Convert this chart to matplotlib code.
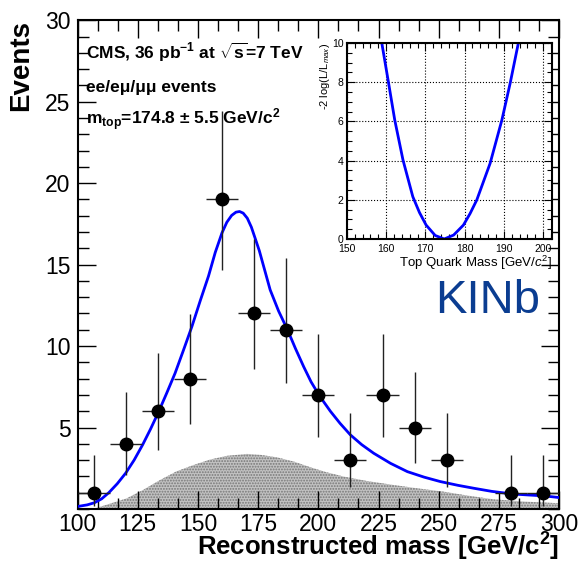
import matplotlib
matplotlib.use("Agg")
import matplotlib.pyplot as plt
from matplotlib.ticker import MultipleLocator

plt.rcParams["font.family"] = ["Liberation Sans", "DejaVu Sans"]
plt.rcParams["mathtext.fontset"] = "custom"
plt.rcParams["mathtext.rm"] = "Liberation Sans"
plt.rcParams["mathtext.it"] = "Liberation Sans:italic"
plt.rcParams["mathtext.bf"] = "Liberation Sans:bold"
plt.rcParams["hatch.linewidth"] = 0.9

# Data points (bin centres, counts, Poisson errors)
bin_centers = [106.67, 120.0, 133.33, 146.67, 160.0, 173.33, 186.67, 200.0,
               213.33, 226.67, 240.0, 253.33, 280.0, 293.33]
counts = [1, 4, 6, 8, 19, 12, 11, 7, 3, 7, 5, 3, 1, 1]
err_low = [0.83, 1.91, 2.38, 2.77, 4.33, 3.40, 3.26, 2.58, 1.63, 2.58, 2.16, 1.63, 0.83, 0.83]
err_high = [2.30, 3.16, 3.58, 3.94, 5.43, 4.55, 4.41, 3.77, 2.92, 3.77, 3.38, 2.92, 2.30, 2.30]
bin_half = 6.667

# Fit curve
fit_x = [100, 104, 107, 110, 113, 116.5, 120, 123.5, 127, 130.3, 133.6, 137, 140.5,
         144, 147.5, 151, 154.4, 157.2, 160, 162, 164, 165.8, 167.3, 168.8, 170.5,
         172.2, 173.8, 175.5, 177, 178.5, 180, 183.5, 187.2, 190.5, 193.9, 197,
         200.5, 205, 209, 213.3, 218, 223, 230, 237, 244, 250.7, 258, 264.6, 272,
         280.5, 287, 294, 300]
fit_y = [0.15, 0.25, 0.38, 0.62, 1.0, 1.55, 2.2, 3.0, 3.93, 4.9, 5.94, 7.1, 8.33,
         9.75, 11.2, 12.8, 14.3, 15.75, 16.95, 17.6, 18.02, 18.22, 18.26, 18.16, 17.85,
         17.3, 16.6, 15.85, 15.05, 14.25, 13.45, 12.15, 11.0, 9.85, 8.74, 7.8,
         6.94, 6.0, 5.26, 4.55, 3.95, 3.42, 2.8, 2.29, 1.95, 1.68, 1.45, 1.27, 1.08,
         0.92, 0.86, 0.80, 0.70]

# Background shape
bkg_x = [100, 106.5, 113, 120.4, 127, 134.3, 141, 148.2, 155, 162, 170.4, 176, 182.8,
         190, 196.7, 203, 210.5, 220, 231.3, 242, 252.1, 262, 272.9, 286, 300]
bkg_y = [0.0, 0.0, 0.3, 0.65, 1.15, 1.78, 2.3, 2.7, 3.03, 3.26, 3.38, 3.32, 3.17,
         2.9, 2.56, 2.27, 1.99, 1.72, 1.47, 1.25, 1.06, 0.82, 0.59, 0.45, 0.35]

# Likelihood scan (inset)
scan_x = [158.9, 160.5, 162.2, 164.3, 166.8, 168.5, 170.2, 172.5, 174.8, 177.2, 179.7,
          181.4, 183.1, 186.5, 189.5, 191.6, 193.7]
scan_y = [10.0, 8.11, 6.07, 4.03, 2.16, 1.35, 0.71, 0.18, 0.0, 0.2, 0.71,
          1.3, 1.99, 3.86, 6.07, 7.94, 10.0]

fig = plt.figure(figsize=(5.83, 5.63), dpi=100)
ax = fig.add_axes([0.133, 0.096, 0.826, 0.868])

ax.fill_between(bkg_x, 0, bkg_y, facecolor="#c2c2c2", edgecolor="#777777",
                hatch="......", linewidth=0, zorder=1)
ax.plot(fit_x, fit_y, color="#0000ff", lw=2.0, zorder=3)
ax.errorbar(bin_centers, counts, xerr=bin_half, yerr=[err_low, err_high],
            fmt="o", color="black", ecolor="#222222", elinewidth=1.0,
            markersize=9, capsize=0, zorder=4)

ax.set_xlim(100, 300)
ax.set_ylim(0, 30)
ax.xaxis.set_major_locator(MultipleLocator(25))
ax.xaxis.set_minor_locator(MultipleLocator(25 / 3))
ax.yaxis.set_major_locator(MultipleLocator(5))
ax.yaxis.set_minor_locator(MultipleLocator(1))
ax.tick_params(which="both", direction="in", top=True, right=True, width=1.0)
ax.tick_params(which="major", length=13, labelsize=16.5)
ax.tick_params(axis="x", which="major", pad=3)
ax.tick_params(axis="y", which="major", pad=5)
ax.tick_params(which="minor", length=8)
ax.set_yticks([5, 10, 15, 20, 25, 30])
for s in ax.spines.values():
    s.set_linewidth(1.5)

# x title placed in figure coordinates so it stays inside the canvas
fig.text(0.959, 0.014, "Reconstructed mass [GeV/c$^{\\mathbf{2}}$]", fontsize=18.5,
         fontweight="bold", ha="right", va="baseline")
ax.set_ylabel("Events", fontsize=20, fontweight="bold", loc="top", labelpad=8)

ax.text(0.017, 0.935, "CMS, 36 pb$^{\\mathbf{-1}}$ at $\\sqrt{\\mathbf{s}}$=7 TeV",
        transform=ax.transAxes, fontsize=12.5, fontweight="bold", va="center")
ax.text(0.017, 0.862, "ee/eμ/μμ events", transform=ax.transAxes,
        fontsize=12.5, fontweight="bold", va="center")
ax.text(0.017, 0.797, "m$_{\\mathbf{top}}$=174.8 ± 5.5 GeV/c$^{\\mathbf{2}}$",
        transform=ax.transAxes, fontsize=12.5, fontweight="bold", va="center")
ax.text(0.96, 0.426, "KINb", transform=ax.transAxes, fontsize=34,
        color="#0b3d91", ha="right", va="center")

# Inset with the likelihood scan
axi = fig.add_axes([0.595, 0.5755, 0.352, 0.348])
axi.plot(scan_x, scan_y, color="#0000ff", lw=2.0)
axi.set_xlim(150, 202.3)
axi.set_ylim(0, 10)
axi.xaxis.set_major_locator(MultipleLocator(10))
axi.xaxis.set_minor_locator(MultipleLocator(2))
axi.yaxis.set_major_locator(MultipleLocator(2))
axi.yaxis.set_minor_locator(MultipleLocator(0.5))
axi.grid(True, which="major", linestyle=":", color="black", lw=0.8)
axi.tick_params(which="both", direction="in", top=True, right=True, width=0.8)
axi.tick_params(which="major", length=6, labelsize=7.5)
axi.tick_params(axis="x", which="major", pad=3.5)
axi.tick_params(axis="y", which="major", pad=2.5)
axi.tick_params(which="minor", length=3.5)
for s in axi.spines.values():
    s.set_linewidth(1.5)
axi.set_xlabel("Top Quark Mass [GeV/$c^{2}$]", fontsize=9.5, loc="right", labelpad=0)
axi.set_ylabel("-2 log(L/L$_{max}$)", fontsize=8, loc="top", labelpad=0)

fig.savefig("out.png", dpi=100)
